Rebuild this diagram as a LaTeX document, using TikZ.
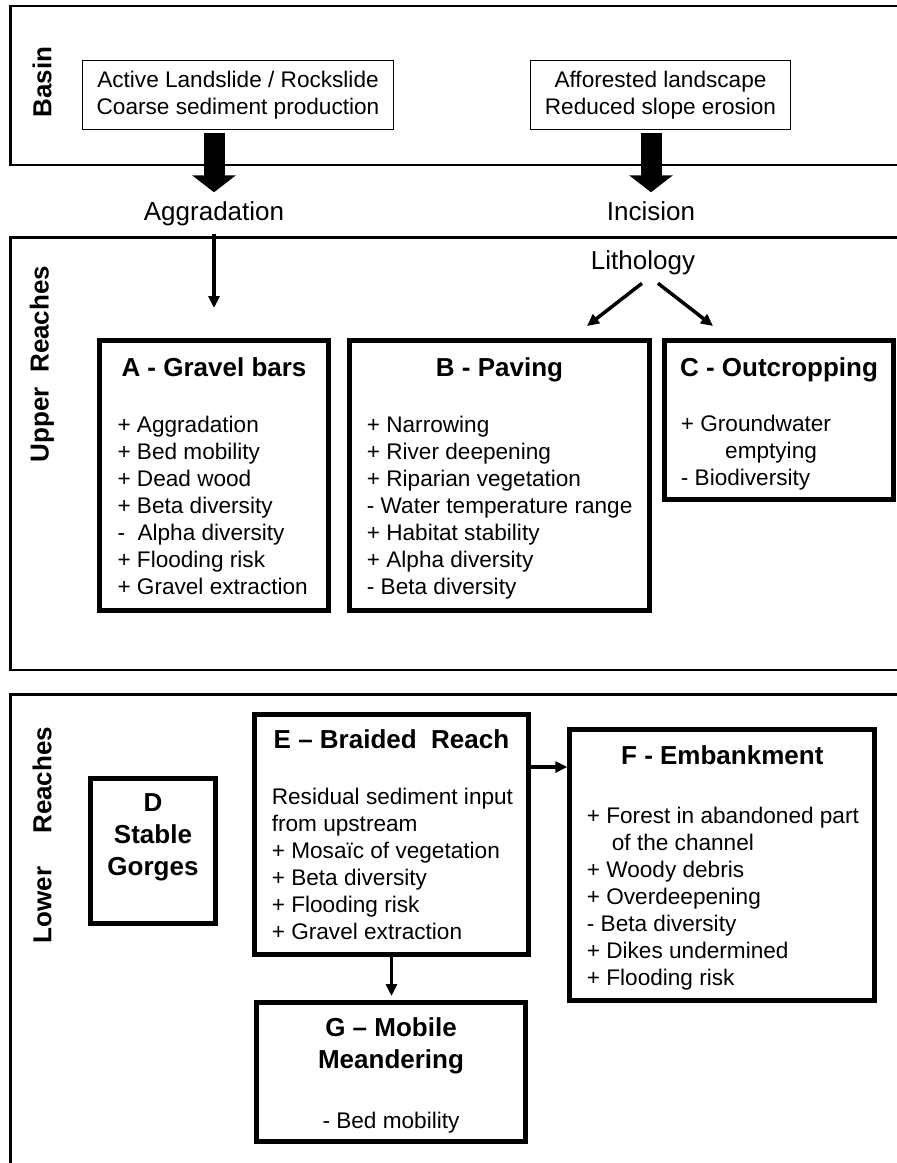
\documentclass[tikz,border=0pt]{standalone}
\usepackage{fontspec}
\setmainfont{Liberation Sans}
\usepackage{tikz}
\usetikzlibrary{arrows.meta,positioning}

\newcommand{\listfnt}{\fontsize{22.6}{27}\selectfont}
\newcommand{\headfnt}{\bfseries\fontsize{26}{32}\selectfont}

\begin{document}
\begin{tikzpicture}[x=1pt,y=-1pt,
  panel/.style={line width=2.8pt},
  sidelabel/.style={font=\headfnt,rotate=90},
  srcbox/.style={draw,line width=1.3pt,align=center,font=\listfnt,inner sep=0pt},
  flowtext/.style={font=\fontsize{26}{32}\selectfont,inner sep=8.7pt,anchor=base},
  zonebox/.style={draw,line width=5pt,inner sep=0pt},
  zonehead/.style={font=\headfnt,align=center,inner sep=0pt},
  zonelist/.style={font=\listfnt,align=left,inner sep=0pt},
  flowarrow/.style={line width=3.5pt,-{Triangle[width=11pt,length=12pt]}},
  bigarrow/.style={line width=21pt,-{Triangle[width=43pt,length=17pt]}}]

\useasboundingbox (0,0) rectangle (897,1163);

% the three panels (open to the right)
\draw[panel] (897,6) -| (10.5,165) -- (897,165);
\draw[panel] (897,237.3) -| (10.5,670) -- (897,670);
\draw[panel] (897,694.7) -| (10.5,1163);

\node[sidelabel] (basin) at (42,82) {Basin};
\node[sidelabel] (upper) at (42,364) {Upper\ \ Reaches};
\node[sidelabel] (lower) at (42,835) {Lower\hspace{33pt}Reaches};

% basin
\node[srcbox,minimum width=310.7pt,minimum height=68.7pt] (landslide) at (238,95)
  {Active Landslide / Rockslide\\Coarse sediment production};
\node[srcbox,minimum width=259.7pt,minimum height=68.7pt] (forest) at (660.5,95)
  {Afforested landscape\\Reduced slope erosion};

\node[flowtext] (aggr) at (214,220) {Aggradation};
\node[flowtext] (incis) at (651,220) {Incision};
\node[flowtext] (litho) at (643,269) {Lithology};

% upper reaches
\node[zonebox,minimum width=229pt,minimum height=270pt] (gravel) at (214,475.5) {};
\node[zonehead,below=19pt of gravel.north] (gravel-h) {A - Gravel bars};
\node[zonelist,below right=78pt and 20.3pt of gravel.north west] (gravel-l)
  {+ Aggradation\\+ Bed mobility\\+ Dead wood\\+ Beta diversity\\-\ \ Alpha diversity\\+ Flooding risk\\+ Gravel extraction};

\node[zonebox,minimum width=300pt,minimum height=270pt] (paving) at (499.5,475.5) {};
\node[zonehead,below=19pt of paving.north] (paving-h) {B - Paving};
\node[zonelist,below right=78pt and 19.7pt of paving.north west] (paving-l)
  {+ Narrowing\\+ River deepening\\+ Riparian vegetation\\- Water temperature range\\+ Habitat stability\\+ Alpha diversity\\- Beta diversity};

\node[zonebox,minimum width=229pt,minimum height=159pt] (outcrop) at (779,420) {};
\node[zonehead,below=19pt of outcrop.north] (outcrop-h) {C - Outcropping};
\node[zonelist,below right=77pt and 18.7pt of outcrop.north west] (outcrop-l)
  {+ Groundwater\\\hspace*{44.3pt}emptying\\- Biodiversity};

% lower reaches
\node[zonebox,minimum width=125pt,minimum height=145pt] (gorges) at (153,851) {};
\node[zonehead,below=17pt of gorges.north] (gorges-h) {D\\Stable\\Gorges};

\node[zonebox,minimum width=273.5pt,minimum height=240pt] (braided) at (391.5,834.5) {};
\node[zonehead,below=17.3pt of braided.north] (braided-h) {E -- Braided\ \ Reach};
\node[zonelist,below right=75.5pt and 19.4pt of braided.north west] (braided-l)
  {Residual sediment input\\from upstream\\+ Mosaïc of vegetation\\+ Beta diversity\\+ Flooding risk\\+ Gravel extraction};

\node[zonebox,minimum width=305pt,minimum height=271pt] (embank) at (722.3,865) {};
\node[zonehead,below=18pt of embank.north] (embank-h) {F - Embankment};
\node[zonelist,below right=79.8pt and 19.4pt of embank.north west] (embank-l)
  {+ Forest in abandoned part\\\hspace*{25pt}of the channel\\+ Woody debris\\+ Overdeepening\\- Beta diversity\\+ Dikes undermined\\+ Flooding risk};

\node[zonebox,minimum width=269pt,minimum height=139pt] (meander) at (391,1072) {};
\node[zonehead,below=17pt of meander.north] (meander-h) {G -- Mobile\\Meandering};
\node[zonelist,below=111.5pt of meander.north] (meander-l) {- Bed mobility};

% arrows
\draw[bigarrow,shorten <=3pt] (aggr.north |- landslide.south) -- (aggr.north);
\draw[bigarrow,shorten <=3pt] (incis.north |- forest.south) -- (incis.north);
\draw[flowarrow,shorten >=30pt] (aggr.south) -- (gravel.north);
\draw[flowarrow] ([xshift=-1pt]litho.south) -- ([xshift=-65pt,yshift=12pt]paving.north east);
\draw[flowarrow] ([xshift=15pt]litho.south) -- ([xshift=51pt,yshift=12pt]outcrop.north west);
\coordinate (ef) at ([yshift=-55pt]braided.north east);
\draw[flowarrow] (ef) -- (ef -| embank.west);
\draw[flowarrow,shorten >=4pt] (braided.south) -- (braided.south |- meander.north);
\end{tikzpicture}
\end{document}
